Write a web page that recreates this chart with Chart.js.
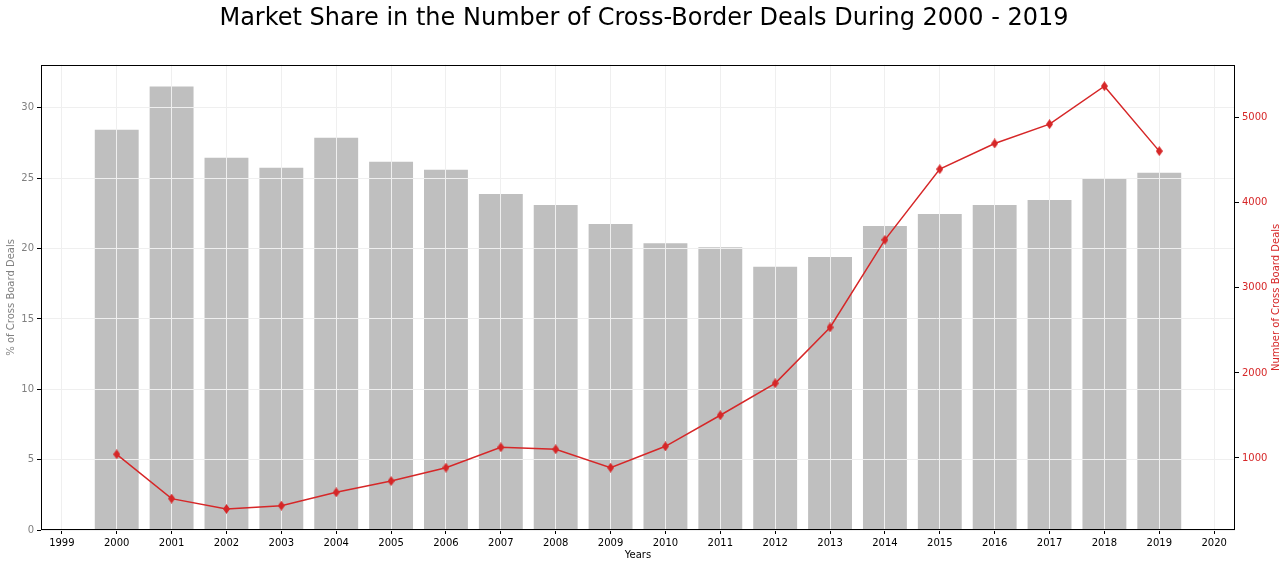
<!DOCTYPE html>
<html>
<head>
<meta charset="utf-8">
<script src="https://cdn.jsdelivr.net/npm/chart.js@4"></script>
<style>
  html, body { margin: 0; padding: 0; background: #fff; }
  #wrap { width: 1288px; height: 568px; }
</style>
</head>
<body>
<div id="wrap"><canvas id="chart"></canvas></div>
<script>
/* ================= DATA ================= */
const years = [2000, 2001, 2002, 2003, 2004, 2005, 2006, 2007, 2008, 2009,
               2010, 2011, 2012, 2013, 2014, 2015, 2016, 2017, 2018, 2019];
const sharePct = [28.45, 31.52, 26.45, 25.74, 27.88, 26.17, 25.6, 23.88, 23.1, 21.74,
                  20.38, 20.1, 18.7, 19.4, 21.6, 22.45, 23.1, 23.45, 25.0, 25.38];
const dealCount = [1043, 522, 400, 439, 596, 729, 886, 1126, 1102, 886,
                   1137, 1502, 1878, 2535, 3565, 4396, 4698, 4925, 5372, 4608];
const xTicks = [1999, 2000, 2001, 2002, 2003, 2004, 2005, 2006, 2007, 2008, 2009, 2010,
                2011, 2012, 2013, 2014, 2015, 2016, 2017, 2018, 2019, 2020];
const leftTicks = [0, 5, 10, 15, 20, 25, 30];
const rightTicks = [1000, 2000, 3000, 4000, 5000];

const RED = "#d62728";
const FONT = "'DejaVu Sans', sans-serif";

/* ================= THIN DIAMOND MARKER ================= */
const marker = document.createElement("canvas");
marker.width = 7;
marker.height = 10;
{
  const m = marker.getContext("2d");
  m.fillStyle = RED;
  m.beginPath();
  m.moveTo(3.5, 0);
  m.lineTo(7, 5);
  m.lineTo(3.5, 10);
  m.lineTo(0, 5);
  m.closePath();
  m.fill();
}

/* grid goes over the bars but under the line, like the original */
const gridOverBars = {
  id: "gridOverBars",
  afterDatasetDraw(chart, args) {
    if (args.meta.type !== "bar") return;
    chart.scales.x.drawGrid(chart.chartArea);
    chart.scales.y.drawGrid(chart.chartArea);
  }
};

const frame = {
  id: "frame",
  afterDraw(chart) {
    const { ctx, chartArea: a } = chart;
    ctx.save();
    ctx.strokeStyle = "#000";
    ctx.lineWidth = 1;
    ctx.strokeRect(Math.round(a.left) + 0.5, Math.round(a.top) + 0.5,
      Math.round(a.right - a.left) - 1, Math.round(a.bottom - a.top) - 1);

    // right axis title, reads bottom to top
    ctx.fillStyle = RED;
    ctx.font = "10px " + FONT;
    ctx.textAlign = "center";
    ctx.textBaseline = "middle";
    ctx.translate(1276, (a.top + a.bottom) / 2);
    ctx.rotate(-Math.PI / 2);
    ctx.fillText("Number of Cross Board Deals", 0, 0);
    ctx.restore();
  }
};

const fixTicks = list => scale => { scale.ticks = list.map(v => ({ value: v })); };

new Chart(document.getElementById("chart"), {
  type: "bar",
  data: {
    datasets: [
      {
        type: "line",
        label: "Number of Cross Board Deals",
        data: years.map((y, i) => ({ x: y, y: dealCount[i] })),
        yAxisID: "y1",
        borderColor: RED,
        backgroundColor: RED,
        borderWidth: 1.5,
        pointStyle: marker,
        pointRadius: 5,
        order: 0
      },
      {
        type: "bar",
        label: "% of Cross Board Deals",
        data: years.map((y, i) => ({ x: y, y: sharePct[i] })),
        yAxisID: "y",
        backgroundColor: "#bfbfbf",
        categoryPercentage: 1,
        barPercentage: 0.8,
        order: 1
      }
    ]
  },
  options: {
    responsive: true,
    maintainAspectRatio: false,
    animation: false,
    layout: { padding: 0 },
    plugins: {
      legend: { display: false },
      tooltip: { enabled: false },
      title: {
        display: true,
        text: "Market Share in the Number of Cross-Border Deals During 2000 - 2019",
        color: "#000",
        font: { family: FONT, size: 24, weight: "normal" },
        padding: { top: 4, bottom: 32 }
      }
    },
    scales: {
      x: {
        type: "linear",
        min: 1998.62,
        max: 2020.38,
        offset: false,
        afterBuildTicks: fixTicks(xTicks),
        afterFit: s => { s.height = 38; },
        grid: { offset: false, color: "#efefef", tickColor: "#000", tickLength: 4 },
        border: { display: false },
        ticks: {
          color: "#000",
          padding: 3,
          maxRotation: 0,
          autoSkip: false,
          font: { family: FONT, size: 10 },
          callback: v => String(v)
        },
        title: {
          display: true,
          text: "Years",
          color: "#000",
          font: { family: FONT, size: 10 },
          padding: { top: 2, bottom: 7 }
        }
      },
      y: {
        position: "left",
        min: 0,
        max: 33.06,
        afterBuildTicks: fixTicks(leftTicks),
        afterFit: s => { s.width = 41; },
        grid: { color: "#efefef", tickColor: "#000", tickLength: 4 },
        border: { display: false },
        ticks: {
          color: "#808080",
          padding: 3,
          font: { family: FONT, size: 10 }
        },
        title: {
          display: true,
          text: "% of Cross Board Deals",
          color: "#808080",
          font: { family: FONT, size: 10 },
          padding: { top: 5, bottom: 0 }
        }
      },
      y1: {
        position: "right",
        min: 153,
        max: 5623,
        afterBuildTicks: fixTicks(rightTicks),
        afterFit: s => { s.width = 53; },
        grid: { display: true, drawOnChartArea: false, tickColor: "#000", tickLength: 4 },
        border: { display: false },
        ticks: {
          color: RED,
          padding: 3,
          font: { family: FONT, size: 10 },
          callback: v => String(v)
        }
      }
    }
  },
  plugins: [gridOverBars, frame]
});
</script>
</body>
</html>
